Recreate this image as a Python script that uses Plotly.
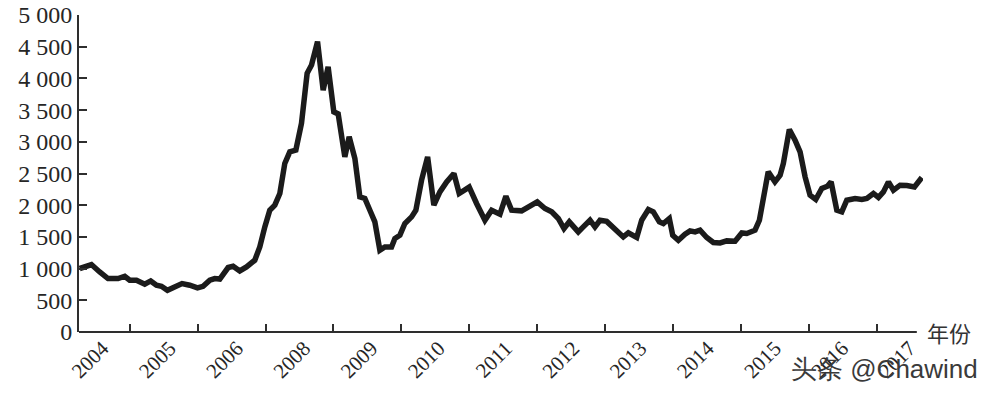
import plotly.graph_objects as go

t = [2004.263, 2004.436, 2004.558, 2004.680, 2004.828, 2004.926, 2005.000, 2005.099,
     2005.221, 2005.309, 2005.393, 2005.467, 2005.555, 2005.663, 2005.770, 2005.884,
     2005.997, 2006.080, 2006.179, 2006.252, 2006.326, 2006.449, 2006.522, 2006.620,
     2006.719, 2006.841, 2006.915, 2006.989, 2007.062, 2007.136, 2007.210, 2007.283,
     2007.357, 2007.446, 2007.529, 2007.612, 2007.677, 2007.765, 2007.848, 2007.921,
     2008.005, 2008.069, 2008.167, 2008.231, 2008.315, 2008.388, 2008.462, 2008.536,
     2008.609, 2008.683, 2008.757, 2008.855, 2008.904, 2008.978, 2009.051, 2009.150,
     2009.213, 2009.297, 2009.386, 2009.478, 2009.567, 2009.666, 2009.773, 2009.851,
     2009.998, 2010.107, 2010.230, 2010.328, 2010.451, 2010.539, 2010.623, 2010.770,
     2010.893, 2011.000, 2011.114, 2011.213, 2011.310, 2011.394, 2011.472, 2011.604,
     2011.678, 2011.777, 2011.850, 2011.924, 2012.023, 2012.145, 2012.267, 2012.341,
     2012.465, 2012.538, 2012.636, 2012.709, 2012.798, 2012.857, 2012.945, 2012.995,
     2013.078, 2013.176, 2013.250, 2013.324, 2013.397, 2013.496, 2013.593, 2013.692,
     2013.791, 2013.913, 2014.012, 2014.085, 2014.207, 2014.271, 2014.401, 2014.500,
     2014.576, 2014.624, 2014.712, 2014.796, 2014.870, 2014.944, 2015.017, 2015.101,
     2015.190, 2015.272, 2015.327, 2015.411, 2015.484, 2015.558, 2015.680, 2015.779,
     2015.853, 2015.950, 2016.024, 2016.097, 2016.171, 2016.245, 2016.343, 2016.442,
     2016.554, 2016.663]
values = [1001, 1064, 947, 843, 843, 879, 816, 816,
          753, 805, 737, 721, 658, 710, 764, 737,
          695, 721, 816, 843, 835, 1017, 1037, 963,
          1026, 1132, 1342, 1658, 1921, 2000, 2185, 2659,
          2842, 2869, 3290, 4080, 4211, 4579, 3816, 4184,
          3473, 3440, 2763, 3079, 2737, 2131, 2106, 1921,
          1737, 1290, 1342, 1342, 1474, 1527, 1711, 1816,
          1921, 2395, 2763, 2000, 2210, 2368, 2500, 2185,
          2285, 2027, 1763, 1921, 1858, 2142, 1921, 1911,
          2000, 2052, 1948, 1895, 1790, 1632, 1737, 1579,
          1658, 1763, 1658, 1763, 1745, 1632, 1500, 1563,
          1490, 1763, 1932, 1895, 1737, 1711, 1790, 1527,
          1448, 1543, 1595, 1579, 1606, 1490, 1411, 1405,
          1437, 1432, 1563, 1553, 1606, 1763, 2526, 2368,
          2474, 2659, 3195, 3027, 2842, 2447, 2158, 2090,
          2264, 2300, 2368, 1921, 1895, 2079, 2106, 2090,
          2106, 2185, 2122, 2210, 2368, 2237, 2316, 2311,
          2289, 2437]

year_labels = ["2004", "2005", "2006", "2008", "2009", "2010", "2011",
               "2012", "2013", "2014", "2015", "2016", "2017"]
boundary_years = list(range(2005, 2017))
x_unit_label = "年份"
watermark = "头条 @Chawind"

label_pos = [2004.60 + 0.99 * i for i in range(len(year_labels))]

x_start, x_axis_end, x_view_end = 2004.253, 2016.589, 2016.68
W, H = 994, 393
L, T, B = 79, 15, 61
px_per_year = 67.88
plot_w = (x_view_end - x_start) * px_per_year
R = W - L - plot_w
axis_frac = (x_axis_end - x_start) / (x_view_end - x_start)
wm_right = (980 - L) / plot_w

serif = "Liberation Serif"
axis_col = "#2e2e2e"

fig = go.Figure()
fig.add_trace(go.Scatter(
    x=t, y=values, mode="lines",
    line=dict(color="#1b1b1b", width=5.5, shape="linear"),
    hoverinfo="skip", showlegend=False,
))

fig.update_layout(
    width=W, height=H,
    margin=dict(l=L, r=R, t=T, b=B, pad=0, autoexpand=False),
    paper_bgcolor="white", plot_bgcolor="white",
    separators=". ",
    showlegend=False,
    font=dict(family=serif),
    xaxis=dict(
        range=[x_start, x_view_end], automargin=False,
        showgrid=False, zeroline=False, showline=False,
        tickmode="array", tickvals=label_pos, ticktext=year_labels,
        ticks="", tickangle=-45,
        tickfont=dict(family=serif, size=21, color="#262626"),
        ticklabelstandoff=-1,
        minor=dict(tickmode="array", tickvals=boundary_years, ticks="inside",
                   ticklen=8, tickwidth=1.5, tickcolor=axis_col, showgrid=False),
    ),
    yaxis=dict(
        range=[0, 5000], automargin=False,
        showgrid=False, zeroline=False,
        showline=True, linecolor=axis_col, linewidth=2,
        tickmode="linear", tick0=0, dtick=500, tickformat=",d",
        ticks="inside", ticklen=8, tickwidth=1.5, tickcolor=axis_col,
        tickfont=dict(family=serif, size=24, color="#262626"),
        ticklabelstandoff=0,
    ),
)

# x axis baseline (stops slightly before the last data point, as in the reference)
fig.add_shape(type="line", xref="paper", yref="paper", x0=0, x1=axis_frac, y0=0, y1=0,
              line=dict(color=axis_col, width=2), layer="above")

fig.add_annotation(
    text=x_unit_label, xref="paper", yref="paper", x=axis_frac, y=0,
    xanchor="left", yanchor="middle", xshift=8, showarrow=False,
    font=dict(family="Noto Sans CJK SC", size=22, color="#333333"),
)
fig.add_annotation(
    text=watermark, xref="paper", yref="paper", x=wm_right, y=0,
    xanchor="right", yanchor="middle", yshift=-37, showarrow=False,
    font=dict(family="Liberation Sans", size=26, color="#3a3a3a"),
)

fig.write_html("out.html")
